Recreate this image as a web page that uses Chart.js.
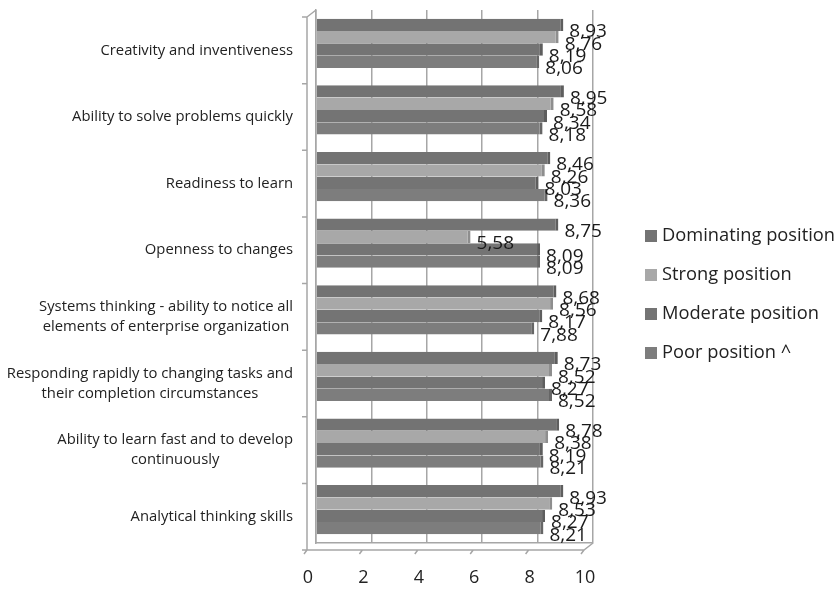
<!DOCTYPE html>
<html>
<head>
<meta charset="utf-8">
<script src="https://cdn.jsdelivr.net/npm/chart.js@4"></script>
<style>
  html, body { margin: 0; padding: 0; background: #fff; }
  #wrap { width: 839px; height: 591px; }
</style>
</head>
<body>
<div id="wrap"><canvas id="chart"></canvas></div>
<script>
// Categories, top to bottom
const categories = [
  ["Creativity and inventiveness"],
  ["Ability to solve problems quickly"],
  ["Readiness to learn"],
  ["Openness to changes"],
  ["Systems thinking - ability to notice all", "elements of enterprise organization"],
  ["Responding rapidly to changing tasks and", "their completion circumstances"],
  ["Ability to learn fast and to develop", "continuously"],
  ["Analytical thinking skills"]
];

// Series values
const dominating = [8.93, 8.95, 8.46, 8.75, 8.68, 8.73, 8.78, 8.93];
const strong = [8.76, 8.58, 8.26, 5.58, 8.56, 8.52, 8.38, 8.53];
const moderate = [8.19, 8.34, 8.03, 8.09, 8.17, 8.27, 8.19, 8.27];
const poor = [8.06, 8.18, 8.36, 8.09, 7.88, 8.52, 8.21, 8.21];

const seriesNames = ["Dominating position", "Strong position", "Moderate position", "Poor position ^"];
const xTicks = [0, 2, 4, 6, 8, 10];

// Value labels (comma decimals) at the end of each bar
const valueLabels = {
  id: "valueLabels",
  afterDatasetsDraw(chart) {
    const ctx = chart.ctx;
    ctx.save();
    ctx.font = "19px 'Open Sans'";
    ctx.fillStyle = "#1a1a1a";
    ctx.textBaseline = "middle";
    ctx.textAlign = "left";
    chart.data.datasets.forEach((ds, di) => {
      const meta = chart.getDatasetMeta(di);
      meta.data.forEach((bar, i) => {
        const text = ds.data[i].toFixed(2).replace(".", ",");
        ctx.fillText(text, bar.x + 6, bar.y + 7);
      });
    });
    ctx.restore();
  }
};

// Category labels: each block right aligned, lines centred inside the block
const categoryLabels = {
  id: "categoryLabels",
  afterDraw(chart) {
    const ctx = chart.ctx;
    const yScale = chart.scales.y;
    const area = chart.chartArea;
    ctx.save();
    ctx.font = "14.8px 'Open Sans'";
    ctx.fillStyle = "#222";
    ctx.textBaseline = "middle";
    ctx.textAlign = "center";
    categories.forEach((lines, i) => {
      const w = Math.max(...lines.map(l => ctx.measureText(l).width));
      const cx = area.left - 23 - w / 2;
      const cy = yScale.getPixelForValue(i) + 7;
      lines.forEach((l, j) => {
        ctx.fillText(l, cx, cy + (j - (lines.length - 1) / 2) * 20);
      });
    });
    ctx.restore();
  }
};

// Front edges of the 3D frame (left wall and floor), offset from the back wall
const frame3d = {
  id: "frame3d",
  beforeDatasetsDraw(chart) {
    const ctx = chart.ctx;
    const a = chart.chartArea;
    const xs = chart.scales.x;
    const ys = chart.scales.y;
    const dx = -9, dy = 7;
    ctx.save();
    ctx.strokeStyle = "#a6a6a6";
    ctx.lineWidth = 1.5;
    ctx.beginPath();
    ctx.moveTo(a.left, a.top);
    ctx.lineTo(a.left + dx, a.top + dy);
    ctx.lineTo(a.left + dx, a.bottom + dy);
    ctx.lineTo(a.right + dx, a.bottom + dy);
    ctx.lineTo(a.right, a.bottom);
    xTicks.forEach(v => {
      const x = xs.getPixelForValue(v);
      ctx.moveTo(x + dx, a.bottom + dy);
      ctx.lineTo(x + dx - 3, a.bottom + dy + 4);
    });
    for (let i = 0; i <= categories.length; i++) {
      const y = ys.getPixelForValue(i - 0.5) + dy;
      ctx.moveTo(a.left + dx, y);
      ctx.lineTo(a.left + dx - 5, y);
    }
    ctx.stroke();
    ctx.restore();
  }
};

// Legend on the right, drawn next to the plot
const sideLegend = {
  id: "sideLegend",
  afterDraw(chart) {
    const ctx = chart.ctx;
    const area = chart.chartArea;
    const x0 = area.right + 52;
    const step = 39;
    const n = chart.data.datasets.length;
    const yStart = chart.height / 2 - 1 - (n - 1) * step / 2;
    ctx.save();
    ctx.font = "18.3px 'Open Sans'";
    ctx.textBaseline = "middle";
    ctx.textAlign = "left";
    chart.data.datasets.forEach((ds, i) => {
      const y = yStart + i * step;
      ctx.fillStyle = ds.backgroundColor;
      ctx.fillRect(x0, y - 6, 12, 12);
      ctx.fillStyle = "#222";
      ctx.fillText(ds.label, x0 + 17, y);
    });
    ctx.restore();
  }
};

const ctx = document.getElementById("chart").getContext("2d");
const chart = new Chart(ctx, {
  type: "bar",
  data: {
    labels: categories.map(c => c.join(" ")),
    datasets: [
      { label: seriesNames[0], data: dominating, backgroundColor: "#737373", borderColor: "#5e5e5e" },
      { label: seriesNames[1], data: strong, backgroundColor: "#a8a8a8", borderColor: "#8e8e8e" },
      { label: seriesNames[2], data: moderate, backgroundColor: "#747474", borderColor: "#5e5e5e" },
      { label: seriesNames[3], data: poor, backgroundColor: "#7d7d7d", borderColor: "#666666" }
    ]
  },
  options: {
    indexAxis: "y",
    responsive: true,
    maintainAspectRatio: false,
    animation: false,
    layout: { padding: { top: 10, bottom: 0, left: 0, right: 246 } },
    datasets: {
      bar: {
        categoryPercentage: 0.74,
        barPercentage: 1.0,
        borderWidth: { right: 3, top: 0, bottom: 0, left: 0 },
        borderSkipped: false
      }
    },
    scales: {
      x: {
        min: 0,
        max: 10,
        afterBuildTicks(scale) {
          scale.ticks = xTicks.map(v => ({ value: v }));
        },
        afterFit(scale) { scale.height = 48; },
        grid: { color: "#a6a6a6", lineWidth: 1.5, drawTicks: false },
        border: { display: true, color: "#a6a6a6", width: 1.5 },
        ticks: {
          padding: 24,
          labelOffset: -8,
          color: "#222",
          font: { family: "'Open Sans'", size: 18 }
        }
      },
      y: {
        grid: { display: false },
        border: { display: true, color: "#a6a6a6", width: 1.5 },
        ticks: { display: false },
        afterFit(scale) { scale.width = 316; }
      }
    },
    plugins: {
      legend: { display: false },
      tooltip: { enabled: false }
    }
  },
  plugins: [frame3d, valueLabels, categoryLabels, sideLegend]
});
</script>
</body>
</html>
